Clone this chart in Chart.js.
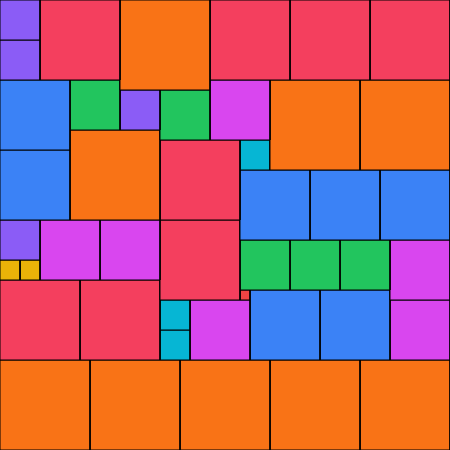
<!DOCTYPE html>
<html>
<head>
<meta charset="utf-8">
<script src="https://cdn.jsdelivr.net/npm/chart.js@4"></script>
<style>
  html, body { margin: 0; padding: 0; background: #fff; }
  #wrap { width: 450px; height: 450px; }
</style>
</head>
<body>
<div id="wrap"><canvas id="myChart"></canvas></div>
<script>
// grid is 45 x 45 units, squares of side n appear n times (n = 1..9)
const squareSize = [4, 4, 8, 9, 8, 8, 8,
                    7, 7, 5, 4, 5, 6, 9, 9,
                    9, 8, 3, 7, 7, 7,
                    4, 2, 2, 6, 6, 8, 5, 5, 5, 6,
                    1, 8, 8, 3, 3, 6, 7, 7, 6,
                    9, 9, 9, 9, 9];
const squareX = [0, 0, 4, 12, 21, 29, 37,
                 0, 0, 7, 12, 16, 21, 27, 36,
                 7, 16, 24, 24, 31, 38,
                 0, 0, 2, 4, 10, 16, 24, 29, 34, 39,
                 24, 0, 8, 16, 16, 19, 25, 32, 39,
                 0, 9, 18, 27, 36];
const squareY = [0, 4, 0, 0, 0, 0, 0,
                 8, 15, 8, 9, 9, 8, 8, 8,
                 13, 14, 14, 17, 17, 17,
                 22, 26, 26, 22, 22, 22, 24, 24, 24, 24,
                 29, 28, 28, 30, 33, 30, 29, 29, 30,
                 36, 36, 36, 36, 36];

// colour per square size
const sizeColors = {
  1: '#ef4444', 2: '#eab308', 3: '#06b6d4', 4: '#8b5cf6', 5: '#22c55e',
  6: '#d946ef', 7: '#3b82f6', 8: '#f43f5e', 9: '#f97316'
};

const datasets = squareSize.map((s, i) => {
  const x = squareX[i], y = squareY[i];
  return {
    data: [{x: x, y: y}, {x: x + s, y: y}, {x: x + s, y: y + s}, {x: x, y: y + s}, {x: x, y: y}],
    backgroundColor: sizeColors[s],
    borderColor: '#000',
    borderWidth: 1,
    fill: 'shape',
    pointRadius: 0,
    tension: 0
  };
});

new Chart(document.getElementById('myChart'), {
  type: 'line',
  data: { datasets: datasets },
  options: {
    responsive: true,
    maintainAspectRatio: false,
    animation: false,
    events: [],
    layout: { padding: 0 },
    plugins: { legend: { display: false }, tooltip: { enabled: false } },
    scales: {
      x: { type: 'linear', min: 0, max: 45, display: false },
      y: { type: 'linear', min: 0, max: 45, reverse: true, display: false }
    }
  }
});
</script>
</body>
</html>
